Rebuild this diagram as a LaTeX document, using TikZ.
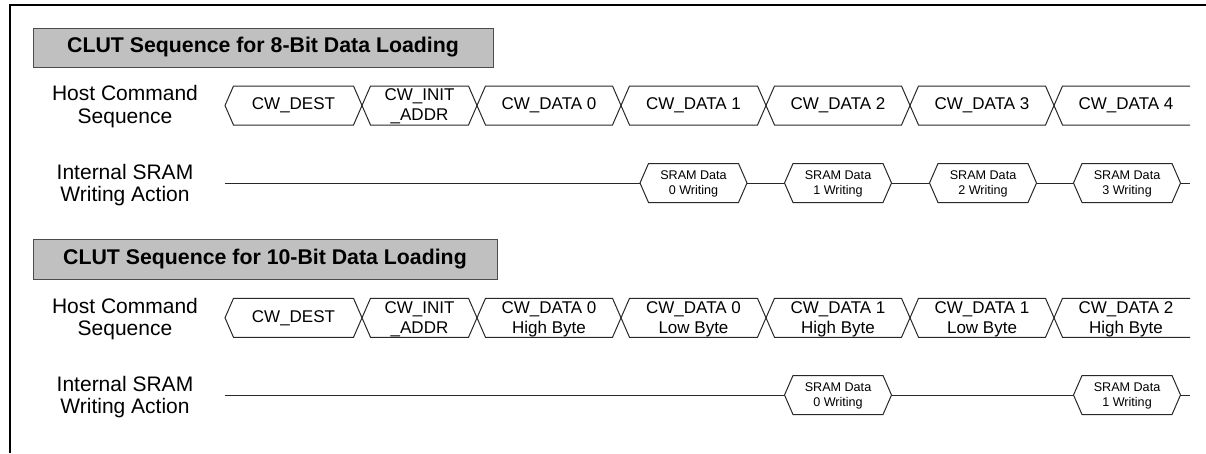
\documentclass[tikz,border=0pt]{standalone}
\usepackage{fontspec}
\setmainfont{Liberation Sans}
\usepackage{xcolor}
\definecolor{TitleGray}{RGB}{192,192,192}
\definecolor{LineCol}{RGB}{40,40,40}
\usepackage{tikz}
\tikzstyle{Frame}=[draw=black,line width=2.6pt]
\tikzstyle{TitleBox}=[draw=black!70,fill=TitleGray,line width=1pt,
font=\bfseries\fontsize{21.3}{24}\selectfont]
\tikzstyle{RowLabel}=[align=center,inner sep=0pt,font=\fontsize{21}{22.5}\selectfont]
\tikzstyle{BusLine}=[draw=LineCol,line width=1pt,line join=miter]
\tikzstyle{BusText}=[align=center,inner sep=0pt,font=\fontsize{17}{20}\selectfont]
\tikzstyle{SramText}=[align=center,inner sep=0pt,font=\fontsize{12.6}{15.3}\selectfont]
% one hexagon cell of a bus row: [style]{left tip}{right tip}{row centre}
\newcommand{\BusCell}[4][]{\draw[BusLine,#1](#2,#4)--({#2+8.5},{#4-19.5})
  --({#3-8.5},{#4-19.5})--(#3,#4)--({#3-8.5},{#4+19.5})--({#2+8.5},{#4+19.5})--cycle;}
% last cell, open to the right
\newcommand{\BusOpen}[3]{\draw[BusLine](#2,{#3-19.5})--({#1+8.5},{#3-19.5})
  --(#1,#3)--({#1+8.5},{#3+19.5})--(#2,{#3+19.5});}

\begin{document}
\begin{tikzpicture}[x=1pt,y=-1pt]
        \useasboundingbox (0,0) rectangle (1206,453);
        \draw[Frame](10,453)--(10,5)--(1206,5);
        % 8-bit loading
        \node[TitleBox,minimum width=460,minimum height=39](t1)at(263,47.5){CLUT Sequence for 8-Bit Data Loading};
        \node[RowLabel](hc1)at(125,106.5){Host Command\\Sequence};
        \node[RowLabel](sw1)at(125,185){Internal SRAM\\Writing Action};
        \foreach \a/\b in {225/362,362/477,477/621,621/766,766/910,910/1054}
            {\BusCell{\a}{\b}{105.5}}
        \BusOpen{1054}{1190}{105.5}
        \node[BusText](c10)at(293.5,105.5){CW\_DEST};
        \node[BusText](c11)at(419.5,106.5){CW\_INIT\\\_ADDR};
        \node[BusText](c12)at(549,105.5){CW\_DATA 0};
        \node[BusText](c13)at(693.5,105.5){CW\_DATA 1};
        \node[BusText](c14)at(838,105.5){CW\_DATA 2};
        \node[BusText](c15)at(982,105.5){CW\_DATA 3};
        \node[BusText](c16)at(1126,105.5){CW\_DATA 4};
        \coordinate(w1s)at(225,183);
        \coordinate(w1e)at(1190,183);
        \draw[BusLine](w1s)--(w1e);
        \BusCell[fill=white]{640}{747}{183}
        \BusCell[fill=white]{784.5}{891.5}{183}
        \BusCell[fill=white]{929.5}{1036.5}{183}
        \BusCell[fill=white]{1073.5}{1180.5}{183}
        \node[SramText](s10)at(693.5,184){SRAM Data\\0 Writing};
        \node[SramText](s11)at(838,184){SRAM Data\\1 Writing};
        \node[SramText](s12)at(983,184){SRAM Data\\2 Writing};
        \node[SramText](s13)at(1127,184){SRAM Data\\3 Writing};
        % 10-bit loading
        \node[TitleBox,minimum width=464,minimum height=40](t2)at(265,259){CLUT Sequence for 10-Bit Data Loading};
        \node[RowLabel](hc2)at(125,319){Host Command\\Sequence};
        \node[RowLabel](sw2)at(125,397){Internal SRAM\\Writing Action};
        \foreach \a/\b in {225/362,362/477,477/621,621/766,766/910,910/1054}
            {\BusCell{\a}{\b}{317.8}}
        \BusOpen{1054}{1190}{317.8}
        \node[BusText](c20)at(293.5,317.8){CW\_DEST};
        \node[BusText](c21)at(419.5,318.8){CW\_INIT\\\_ADDR};
        \node[BusText](c22)at(549,319){CW\_DATA 0\\High Byte};
        \node[BusText](c23)at(693.5,319){CW\_DATA 0\\Low Byte};
        \node[BusText](c24)at(838,319){CW\_DATA 1\\High Byte};
        \node[BusText](c25)at(982,319){CW\_DATA 1\\Low Byte};
        \node[BusText](c26)at(1126,319){CW\_DATA 2\\High Byte};
        \coordinate(w2s)at(225,395);
        \coordinate(w2e)at(1190,395);
        \draw[BusLine](w2s)--(w2e);
        \BusCell[fill=white]{784.5}{891.5}{395}
        \BusCell[fill=white]{1073.5}{1180.5}{395}
        \node[SramText](s20)at(838,396){SRAM Data\\0 Writing};
        \node[SramText](s21)at(1127,396){SRAM Data\\1 Writing};
    \end{tikzpicture}
\end{document}
